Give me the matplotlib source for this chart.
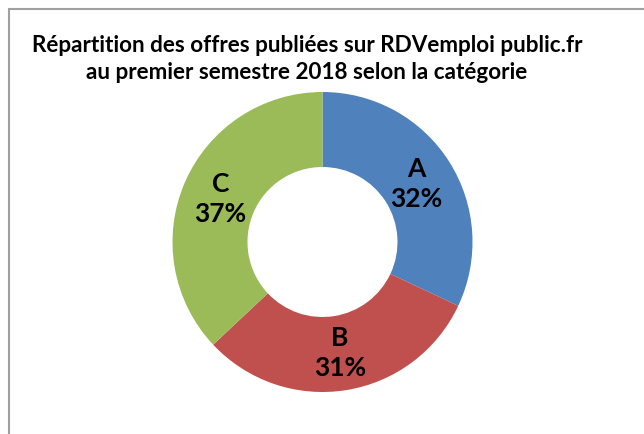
import numpy as np
import matplotlib
matplotlib.use("Agg")
import matplotlib.pyplot as plt
from matplotlib.patches import Rectangle

# données (premier semestre 2018)
categories = ["A", "B", "C"]
parts = [32, 31, 37]
colors = ["#4f81bd", "#c0504d", "#9bbb59"]
title = "Répartition des offres publiées sur RDVemploi public.fr\nau premier semestre 2018 selon la catégorie"

plt.rcParams['font.family'] = ['Lato', 'DejaVu Sans']

fig = plt.figure(figsize=(6.44, 4.35), dpi=100)
fig.patch.set_facecolor("white")

# cadre gris du graphique
fig.patches.append(Rectangle((8.5 / 644, -0.05), 1.2, 1 - 10 / 435 + 0.05,
                             transform=fig.transFigure, fill=False,
                             edgecolor="#a0a0a0", linewidth=1.5))

fig.text(307 / 644, 1 - 59 / 435, title, ha="center", va="center",
         multialignment="center", fontsize=16.2, fontweight="bold",
         linespacing=1.35)

ax = fig.add_axes([(322.5 - 150) / 644, (435 - 243 - 150) / 435, 300 / 644, 300 / 435])
wedges, _ = ax.pie(parts, colors=colors, startangle=90, counterclock=False,
                   radius=1, wedgeprops=dict(width=0.5, edgecolor="none"))
ax.set_xlim(-1, 1)
ax.set_ylim(-1, 1)
ax.set_aspect("equal")
ax.axis("off")

for w, cat, p in zip(wedges, categories, parts):
    ang = np.deg2rad((w.theta1 + w.theta2) / 2)
    r = 0.74
    ax.text(r * np.cos(ang), r * np.sin(ang), "%s\n%d%%" % (cat, p),
            ha="center", va="center", fontsize=19, fontweight="bold",
            linespacing=1.3)

fig.savefig("out.png", dpi=100)
